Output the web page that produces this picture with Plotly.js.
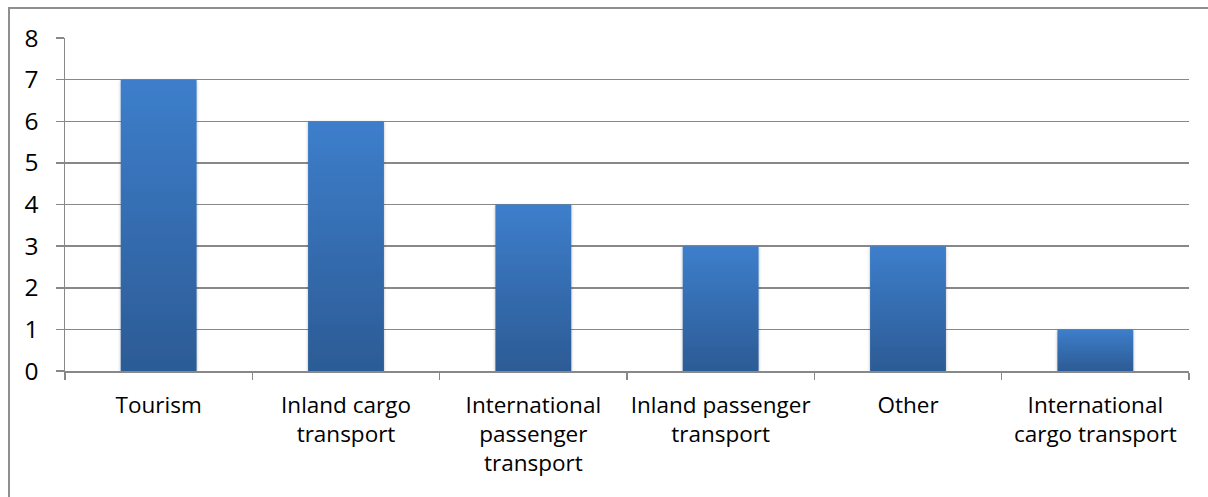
<!DOCTYPE html>
<html><head><meta charset="utf-8">
<script src="https://cdn.plot.ly/plotly-3.0.1.min.js"></script>
<style>
html,body{margin:0;padding:0;background:#fff;overflow:hidden;}
#chart{width:1208px;height:497px;position:relative;}
#frame{position:absolute;left:8px;top:7px;width:1300px;height:600px;border:2px solid #8f8f8f;pointer-events:none;box-sizing:border-box;}
</style></head>
<body>
<div id="chart"></div>
<div id="frame"></div>
<script>
const categories = ["Tourism", "Inland cargo<br>transport", "International<br>passenger<br>transport", "Inland passenger<br>transport", "Other", "International<br>cargo transport"];
const values = [7, 6, 4, 3, 3, 1];
const yTicks = [0, 1, 2, 3, 4, 5, 6, 7, 8];

const font = {family: "Open Sans, Noto Sans, sans-serif", size: 22.5, color: "#000"};
const yfont = {family: "Open Sans, Noto Sans, sans-serif", size: 24.5, color: "#000"};
const trace = {
  type: "bar", x: categories, y: values,
  marker: {color: "#3670b5", line: {width: 0}},
  hoverinfo: "none"
};
const layout = {
  width: 1208, height: 497,
  margin: {l: 65, r: 19, t: 38, b: 126},
  paper_bgcolor: "rgba(0,0,0,0)", plot_bgcolor: "rgba(0,0,0,0)",
  bargap: 0.595,
  showlegend: false,
  font: font,
  xaxis: {
    type: "category", tickson: "boundaries", ticks: "outside", ticklen: 7, tickwidth: 1.5,
    tickcolor: "#888", showline: true, linecolor: "#888", linewidth: 1.5, tickangle: 0,
    showgrid: false, tickfont: font, ticklabelstandoff: 13, zeroline: false
  },
  yaxis: {
    range: [0, 8], tickvals: yTicks, ticktext: yTicks.map(String),
    ticks: "outside", ticklen: 8, tickwidth: 1.5, tickcolor: "#888",
    showline: true, linecolor: "#888", linewidth: 1.5,
    showgrid: true, gridcolor: "#888", gridwidth: 1.5, zeroline: false,
    tickfont: yfont, ticklabelstandoff: 12
  }
};
Plotly.newPlot("chart", [trace], layout, {staticPlot: true}).then(function(gd){
  const svg = gd.querySelector("svg.main-svg");
  const ns = "http://www.w3.org/2000/svg";
  let defs = svg.querySelector("defs");
  if (!defs) { defs = document.createElementNS(ns, "defs"); svg.insertBefore(defs, svg.firstChild); }
  const g = document.createElementNS(ns, "linearGradient");
  g.setAttribute("id", "barGrad"); g.setAttribute("x1", "0"); g.setAttribute("y1", "0"); g.setAttribute("x2", "0"); g.setAttribute("y2", "1");
  [["0%", "#3d7ecb"], ["100%", "#2c5b95"]].forEach(function(s){
    const st = document.createElementNS(ns, "stop");
    st.setAttribute("offset", s[0]); st.setAttribute("stop-color", s[1]); g.appendChild(st);
  });
  defs.appendChild(g);
  const f = document.createElementNS(ns, "filter");
  f.setAttribute("id", "barShadow"); f.setAttribute("x", "-10%"); f.setAttribute("y", "-10%"); f.setAttribute("width", "120%"); f.setAttribute("height", "120%");
  f.innerHTML = '<feDropShadow dx="0" dy="1" stdDeviation="1.5" flood-color="#000" flood-opacity="0.3"/>';
  defs.appendChild(f);
  gd.querySelectorAll(".bars .point path").forEach(function(p){
    p.style.fill = "url(#barGrad)";
    p.setAttribute("filter", "url(#barShadow)");
  });
});
</script>
</body></html>
